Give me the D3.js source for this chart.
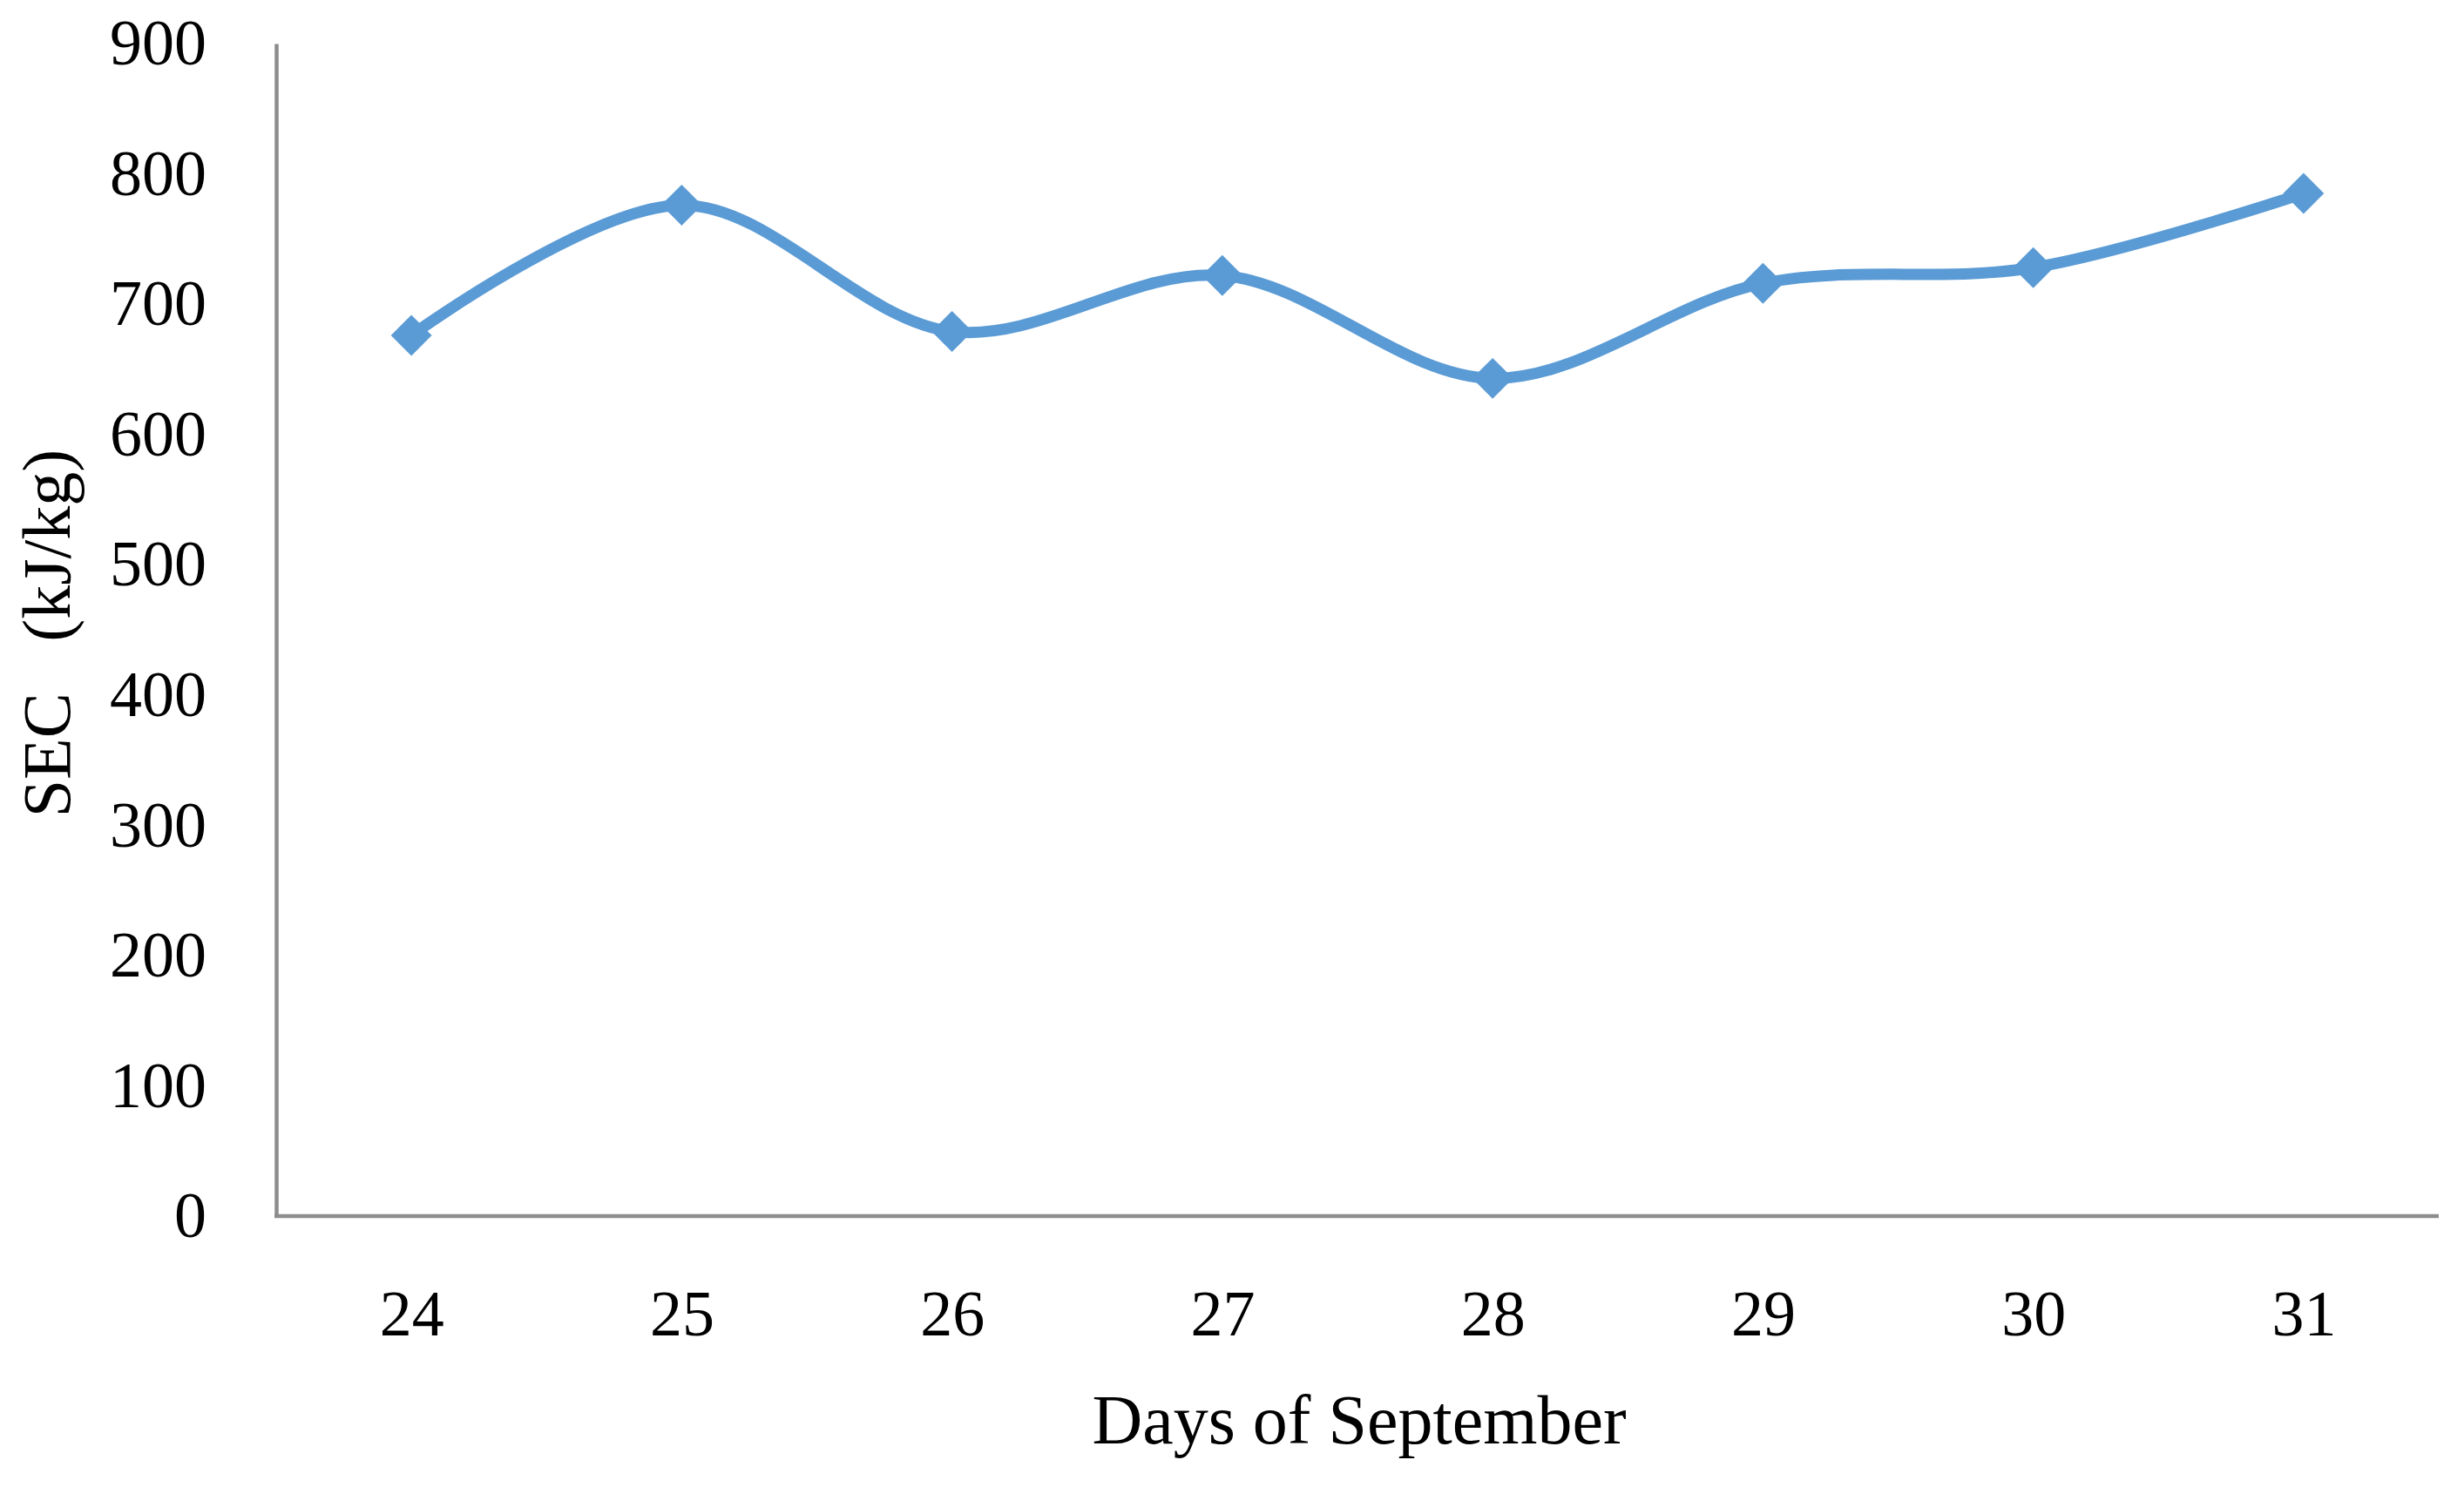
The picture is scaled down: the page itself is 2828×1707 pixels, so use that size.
<!DOCTYPE html>
<html>
<head>
<meta charset="utf-8">
<script src="https://cdn.jsdelivr.net/npm/d3@7"></script>
<style>
  html, body { margin: 0; padding: 0; background: #ffffff; }
  svg { display: block; }
</style>
</head>
<body>
<svg id="chart" width="2828" height="1707"></svg>
<script>
const days = ["24", "25", "26", "27", "28", "29", "30", "31"];
const secValues = [676, 776, 679, 722, 643, 716, 728, 785];
const yTicks = [0, 100, 200, 300, 400, 500, 600, 700, 800, 900];
const xTitle = "Days of September";
const yTitle = "SEC\u00a0\u00a0 (kJ/kg)";

const W = 2828, H = 1707;
const plot = { left: 317, right: 2799, top: 50, bottom: 1396 };
const FONT = "'Liberation Serif', 'Times New Roman', serif";
const AXIS_COLOR = "#8c8c8c";
const LINE_COLOR = "#5B9BD5";

const svg = d3.select("#chart");
svg.append("rect").attr("width", W).attr("height", H).attr("fill", "#ffffff");

const x = d3.scalePoint().domain(days).range([plot.left, plot.right]).padding(0.5);
const y = d3.scaleLinear().domain([0, 900]).range([plot.bottom, plot.top]);

// Y axis
const gy = svg.append("g")
  .attr("transform", `translate(${plot.left},0)`)
  .call(d3.axisLeft(y).tickValues(yTicks).tickSize(0).tickSizeOuter(0).tickPadding(80).tickFormat(d3.format("d")));
gy.select(".domain").attr("stroke", AXIS_COLOR).attr("stroke-width", 4.5);
gy.selectAll("text").attr("font-family", FONT).attr("font-size", 74).attr("fill", "#000");

// X axis
const gx = svg.append("g")
  .attr("transform", `translate(0,${plot.bottom})`)
  .call(d3.axisBottom(x).tickSize(0).tickSizeOuter(0).tickPadding(84));
gx.select(".domain").attr("stroke", AXIS_COLOR).attr("stroke-width", 4.5)
  .attr("d", `M${plot.left - 2},0H${plot.right}`);
gx.selectAll("text").attr("font-family", FONT).attr("font-size", 74).attr("fill", "#000");

// Line
const data = days.map((d, i) => ({ day: d, v: secValues[i] }));
const line = d3.line()
  .x(d => x(d.day))
  .y(d => y(d.v))
  .curve(d3.curveCatmullRom.alpha(0.5));

svg.append("path")
  .datum(data)
  .attr("d", line)
  .attr("fill", "none")
  .attr("stroke", LINE_COLOR)
  .attr("stroke-width", 13)
  .attr("stroke-linejoin", "round");

// Diamond markers
const sym = d3.symbol().type(d3.symbolSquare).size(1100);
svg.append("g").selectAll("path")
  .data(data)
  .join("path")
  .attr("d", sym)
  .attr("transform", d => `translate(${x(d.day)},${y(d.v)}) rotate(45)`)
  .attr("fill", LINE_COLOR);

// Axis titles
svg.append("text")
  .attr("x", 1560)
  .attr("y", 1657)
  .attr("text-anchor", "middle")
  .attr("font-family", FONT)
  .attr("font-size", 80)
  .attr("fill", "#000")
  .text(xTitle);

svg.append("text")
  .attr("transform", "translate(80,727) rotate(-90)")
  .attr("text-anchor", "middle")
  .attr("font-family", FONT)
  .attr("font-size", 78)
  .attr("fill", "#000")
  .style("white-space", "pre")
  .text(yTitle);
</script>
</body>
</html>
